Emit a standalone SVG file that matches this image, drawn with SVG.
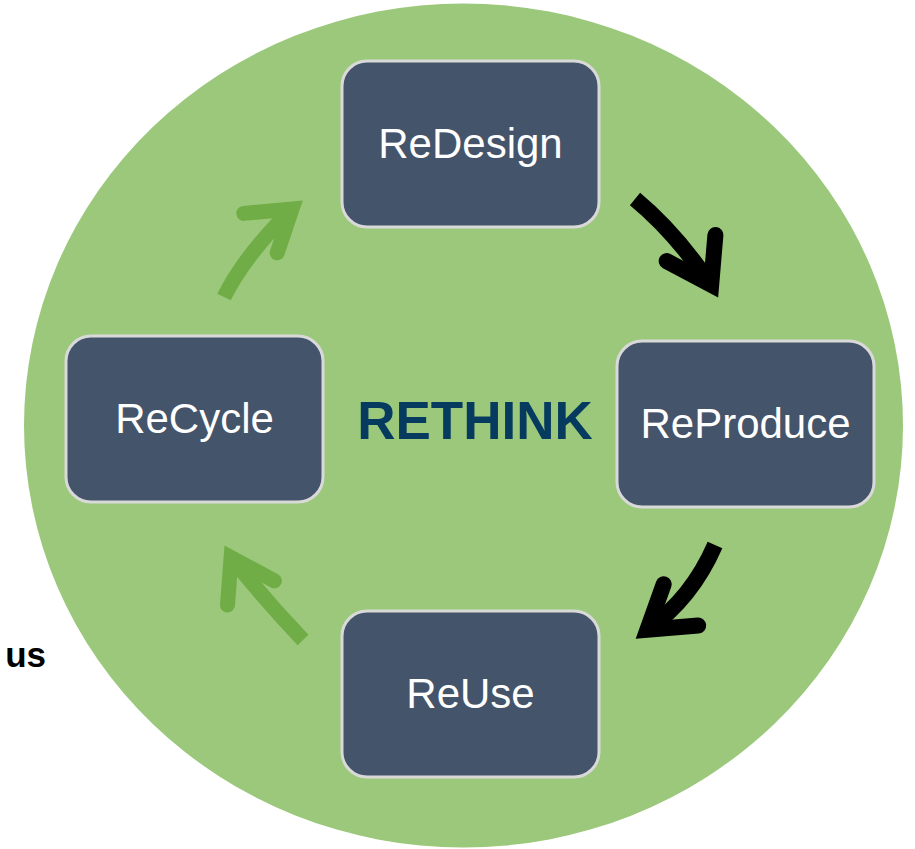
<svg xmlns="http://www.w3.org/2000/svg" width="915" height="849" viewBox="0 0 915 849">
<style>
.box{fill:#44546A;stroke:#D9D9D9;stroke-width:3}
.lbl{font-family:"Liberation Sans",Arial,sans-serif;font-size:42px;fill:#FFFFFF;text-anchor:middle}
.shaft{fill:none;stroke-linecap:butt}
.head{fill:none;stroke-linecap:round;stroke-linejoin:miter;stroke-miterlimit:10}
.g{stroke:#70AD47;stroke-width:15}
.k{stroke:#000000;stroke-width:16}
</style>
<rect width="915" height="849" fill="#FFFFFF"/>
<ellipse id="bg" cx="463.5" cy="425.5" rx="439.5" ry="422" fill="#9BC87B"/>
<text x="46" y="667" font-family="'Liberation Sans',Arial,sans-serif" font-size="35" font-weight="bold" text-anchor="end" fill="#000000">us</text>
<text id="center" x="475" y="439" font-family="'Liberation Sans',Arial,sans-serif" font-size="53" font-weight="bold" text-anchor="middle" fill="#063B5F">RETHINK</text>
<g id="connectors">
  <path class="shaft g" d="M224,297 Q245,255 292,209"/>
  <path class="head g" d="M243.8,213.4 L292,209 L277.2,252.8"/>
  <path class="shaft k" d="M635,199 Q675,232 711,285"/>
  <path class="head k" d="M666.7,261.1 L711.2,284.7 L715.4,235"/>
  <path class="shaft k" d="M715,545 Q692,598 647.4,629.8"/>
  <path class="head k" d="M663.7,584.2 L647.4,629.8 L698.2,625.5"/>
  <path class="shaft g" d="M303,640 Q265,600 231.1,557.6"/>
  <path class="head g" d="M227.5,605 L231.1,557.6 L274.4,580.8"/>
</g>
<g id="redesign">
  <rect class="box" x="342" y="61" width="257" height="166" rx="25"/>
  <text class="lbl" x="470.5" y="158">ReDesign</text>
</g>
<g id="reproduce">
  <rect class="box" x="617" y="341" width="257" height="166" rx="25"/>
  <text class="lbl" x="745.5" y="438">ReProduce</text>
</g>
<g id="reuse">
  <rect class="box" x="342" y="611" width="257" height="166" rx="25"/>
  <text class="lbl" x="470.5" y="708">ReUse</text>
</g>
<g id="recycle">
  <rect class="box" x="66" y="336" width="257" height="166" rx="25"/>
  <text class="lbl" x="194.5" y="433">ReCycle</text>
</g>
</svg>
